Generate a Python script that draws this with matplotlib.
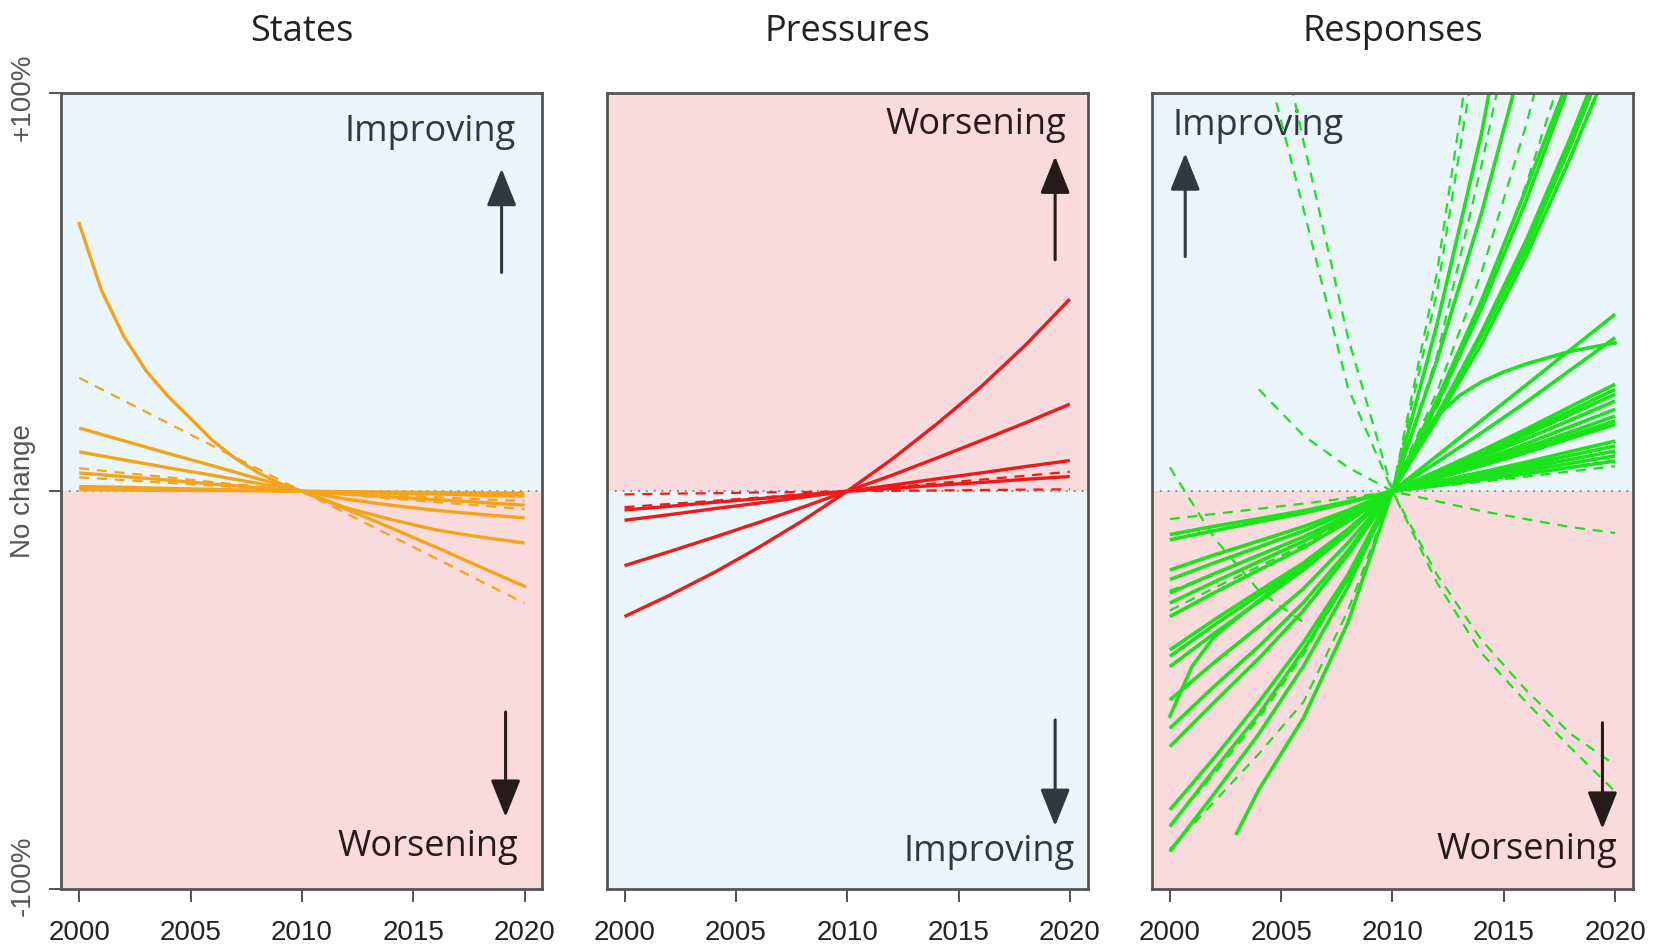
"""Recreate the States / Pressures / Responses trend panel figure."""

import numpy as np
import matplotlib
matplotlib.use('Agg')
import matplotlib.pyplot as plt

# ---------------------------------------------------------------------------
# Data: relative change (fraction, 2010 = 0)
# ---------------------------------------------------------------------------
years = [2000, 2002, 2004, 2006, 2008, 2010, 2012, 2014, 2016, 2018, 2020]
tick_years = [2000, 2005, 2010, 2015, 2020]
panel_titles = ['States', 'Pressures', 'Responses']

# the strongly curved state series is read year by year
states_curve_years = [2000, 2001, 2002, 2003, 2004, 2005, 2006, 2007, 2008,
                      2009, 2010, 2012, 2014, 2016, 2018, 2020]
states_curve = [0.673, 0.505, 0.390, 0.303, 0.238, 0.183, 0.127, 0.083, 0.048,
                0.020, 0, -0.045, -0.092, -0.140, -0.190, -0.239]
states_solid = [
    [0.159, 0.127, 0.095, 0.064, 0.032, 0, -0.042, -0.071, -0.097, -0.115, -0.130],
    [0.099, 0.079, 0.059, 0.040, 0.020, 0, -0.020, -0.035, -0.048, -0.058, -0.067],
    [0.046, 0.037, 0.028, 0.018, 0.009, 0, -0.007, -0.014, -0.021, -0.028, -0.035],
    [0.012, 0.010, 0.007, 0.005, 0.002, 0, -0.002, -0.005, -0.007, -0.010, -0.012],
    [0.004, 0.003, 0.002, 0.002, 0.001, 0, -0.001, -0.002, -0.003, -0.004, -0.005],
]
states_dashed = [
    [0.285, 0.228, 0.171, 0.114, 0.057, 0, -0.056, -0.112, -0.168, -0.225, -0.281],
    [0.058, 0.046, 0.035, 0.023, 0.012, 0, -0.009, -0.018, -0.027, -0.036, -0.045],
    [0.035, 0.028, 0.021, 0.014, 0.007, 0, -0.005, -0.010, -0.015, -0.020, -0.025],
]

pressures_solid = [
    [-0.315, -0.262, -0.205, -0.142, -0.074, 0, 0.080, 0.168, 0.262, 0.367, 0.483],
    [-0.187, -0.152, -0.116, -0.079, -0.040, 0, 0.040, 0.083, 0.127, 0.172, 0.219],
    [-0.073, -0.059, -0.044, -0.030, -0.015, 0, 0.015, 0.031, 0.046, 0.062, 0.077],
    [-0.047, -0.038, -0.028, -0.019, -0.009, 0, 0.007, 0.015, 0.022, 0.030, 0.037],
]
pressures_dashed = [
    [-0.040, -0.032, -0.024, -0.016, -0.008, 0, 0.010, 0.020, 0.029, 0.039, 0.049],
    [-0.008, -0.006, -0.005, -0.003, -0.002, 0, 0.001, 0.002, 0.003, 0.004, 0.005],
]

responses_solid = [
    [-0.906, -0.76, -0.61, -0.44, -0.24, 0, 0.42, 0.90, 1.50, 2.20, 3.00],
    [-0.843, -0.70, -0.56, -0.40, -0.22, 0, 0.23, 0.48, 0.76, 1.05, 1.40],
    [-0.801, -0.67, -0.53, -0.38, -0.21, 0, 0.22, 0.46, 0.73, 1.03, 1.38],
    [-0.642, -0.53, -0.42, -0.30, -0.16, 0, 0.19, 0.40, 0.63, 0.89, 1.17],
    [-0.596, -0.49, -0.39, -0.28, -0.15, 0, 0.19, 0.39, 0.61, 0.87, 1.15],
    [-0.525, -0.43, -0.34, -0.245, -0.13, 0, 0.18, 0.37, 0.59, 0.84, 1.11],
    [-0.441, -0.357, -0.278, -0.198, -0.106, 0, 0.089, 0.178, 0.267, 0.356, 0.445],
    [-0.415, -0.336, -0.261, -0.187, -0.100, 0, 0.073, 0.147, 0.224, 0.305, 0.386],
    [-0.399, -0.323, -0.251, -0.180, -0.096, 0, 0.051, 0.102, 0.156, 0.213, 0.269],
    [-0.315, -0.255, -0.198, -0.142, -0.076, 0, 0.049, 0.097, 0.148, 0.202, 0.256],
    [-0.281, -0.228, -0.177, -0.126, -0.067, 0, 0.046, 0.093, 0.142, 0.193, 0.244],
    [-0.256, -0.207, -0.161, -0.115, -0.061, 0, 0.043, 0.086, 0.132, 0.179, 0.227],
    [-0.222, -0.180, -0.140, -0.100, -0.053, 0, 0.039, 0.078, 0.119, 0.163, 0.206],
    [-0.198, -0.160, -0.125, -0.089, -0.048, 0, 0.036, 0.072, 0.110, 0.149, 0.189],
    [-0.122, -0.099, -0.077, -0.055, -0.029, 0, 0.024, 0.048, 0.073, 0.100, 0.126],
    [-0.109, -0.088, -0.069, -0.049, -0.026, 0, 0.022, 0.043, 0.066, 0.090, 0.114],
    [None, None, None, None, None, 0, 0.034, 0.067, 0.103, 0.140, 0.177],
    [None, None, None, None, None, 0, 0.032, 0.064, 0.097, 0.133, 0.168],
    [None, None, None, None, None, 0, 0.019, 0.038, 0.059, 0.080, 0.101],
    [None, None, None, None, None, 0, 0.017, 0.034, 0.052, 0.070, 0.089],
    [None, None, None, None, None, 0, 0.014, 0.029, 0.044, 0.060, 0.076],
]
responses_dashed = [
    [2.10, 1.60, 1.15, 0.71, 0.26, 0, -0.21, -0.374, -0.50, -0.61, -0.688],
    [2.40, 1.90, 1.40, 0.88, 0.387, 0, -0.23, -0.407, -0.53, -0.645, -0.755],
    [None, None, 0.256, 0.14, 0.06, 0, -0.025, -0.05, -0.07, -0.09, -0.105],
    [0.06, -0.118, -0.25, -0.33, None, None, None, None, None, None, None],
    [-0.90, -0.78, -0.66, -0.53, -0.30, 0, 0.55, 1.30, 2.20, 3.10, 4.00],
    [-0.596, -0.49, -0.39, -0.28, -0.15, 0, 0.50, 1.20, 2.00, 2.80, 3.60],
    [-0.30, -0.243, -0.189, -0.135, -0.072, 0, 0.34, 0.82, 1.35, 1.90, 2.50],
    [-0.84, -0.71, -0.57, -0.41, -0.22, 0, 0.25, 0.55, 0.92, 1.35, 1.80],
    [-0.25, -0.21, -0.16, -0.115, -0.06, 0, 0.21, 0.46, 0.77, 1.12, 1.50],
    [-0.07, -0.057, -0.044, -0.031, -0.017, 0, 0.012, 0.024, 0.037, 0.050, 0.063],
]
# one response series only starts in 2003
responses_late_years = [2003, 2004, 2006, 2008, 2010, 2012, 2014, 2016]
responses_late = [-0.86, -0.75, -0.57, -0.33, 0, 0.33, 0.70, 1.12]
# the bending response series, read more densely
responses_bend_years = [2000, 2001, 2002, 2003, 2004, 2006, 2008, 2010, 2011,
                        2012, 2013, 2014, 2015, 2016, 2018, 2020]
responses_bend = [-0.566, -0.44, -0.365, -0.32, -0.275, -0.186, -0.097, 0, 0.11,
                  0.19, 0.24, 0.275, 0.30, 0.32, 0.352, 0.373]

# ---------------------------------------------------------------------------
# Styling
# ---------------------------------------------------------------------------
BLUE = '#EAF6FB'
PINK = '#F9DBDD'
ORANGE = '#F5A41A'
RED = '#F01818'
GREEN = '#1AE31A'
DARK_BLUE_SIDE = '#2e3940'
DARK_PINK_SIDE = '#261a1d'
TITLE_FONT = ['Open Sans', 'DejaVu Sans']
TICK_FONT = ['Liberation Sans', 'DejaVu Sans']

fig = plt.figure(figsize=(16.6, 9.49), dpi=100)
lefts = [0.0370, 0.3655, 0.6940]
axes = [fig.add_axes([l, 0.0632, 0.2897, 0.8383]) for l in lefts]


def draw_panel(ax, solid, dashed, color, top_good, lw=2.4):
    """Background halves, zero line and the trend lines of one panel."""
    ax.set_xlim(1999.2, 2020.8)
    ax.set_ylim(-1, 1)
    top_col, bot_col = (BLUE, PINK) if top_good else (PINK, BLUE)
    ax.axhspan(0, 1, color=top_col, lw=0, zorder=0)
    ax.axhspan(-1, 0, color=bot_col, lw=0, zorder=0)
    ax.axhline(0, color='#8c8c8c', lw=1.4, ls=(0, (1, 3)), zorder=1)
    for vals in dashed:
        ax.plot(years, np.array(vals, dtype=float), color=color, lw=1.6,
                ls=(0, (4.5, 3.5)), zorder=3)
    for vals in solid:
        ax.plot(years, np.array(vals, dtype=float), color=color, lw=lw,
                solid_capstyle='butt', zorder=4)
    for s in ax.spines.values():
        s.set_linewidth(2.0)
        s.set_color('#555555')
        s.set_zorder(6)
    ax.set_xticks(tick_years)
    ax.set_xticklabels([str(y) for y in tick_years], family=TICK_FONT,
                       color='#222222')
    ax.tick_params(axis='x', length=9, width=1.3, pad=13, labelsize=20,
                   color='#444444')
    ax.set_yticks([])


def arrow(ax, x, y0, y1, col):
    ax.annotate('', xy=(x, y1), xytext=(x, y0),
                arrowprops=dict(arrowstyle='-|>,head_length=1.0,head_width=0.4',
                                lw=2.2, color=col, mutation_scale=23,
                                shrinkA=0, shrinkB=0), zorder=5)


def label(ax, x, y, text, ha, col):
    ax.text(x, y, text, ha=ha, va='center', fontsize=26, color=col,
            family=TITLE_FONT, zorder=2)


draw_panel(axes[0], states_solid, states_dashed, ORANGE, top_good=True)
axes[0].plot(states_curve_years, states_curve, color=ORANGE, lw=2.4, zorder=4)
draw_panel(axes[1], pressures_solid, pressures_dashed, RED, top_good=False)
draw_panel(axes[2], responses_solid, responses_dashed, GREEN, top_good=True,
           lw=2.6)
axes[2].plot(responses_late_years, responses_late, color=GREEN, lw=2.6, zorder=4)
axes[2].plot(responses_bend_years, responses_bend, color=GREEN, lw=2.6, zorder=4)

# titles
for ax, title in zip(axes, panel_titles):
    ax.text(0.5, 1.077, title, transform=ax.transAxes, ha='center', va='center',
            fontsize=26, color='#222222', family=TITLE_FONT)

# y axis labels only on the first panel
ax = axes[0]
ax.set_yticks([-1, 0, 1])
ax.set_yticklabels([])
ax.tick_params(axis='y', length=9, width=1.3, color='#444444')
for yv, txt in [(0.99, '+100%'), (0, 'No change'), (-0.967, '-100%')]:
    ax.text(-0.08, yv, txt, transform=ax.get_yaxis_transform(), rotation=90,
            ha='center', va='center', fontsize=20, color='#555555',
            family=TICK_FONT)

# direction arrows and labels
arrow(axes[0], 2018.97, 0.55, 0.811, DARK_BLUE_SIDE)
arrow(axes[0], 2019.15, -0.555, -0.819, DARK_PINK_SIDE)
label(axes[0], 2019.6, 0.904, 'Improving', 'right', DARK_BLUE_SIDE)
label(axes[0], 2019.7, -0.894, 'Worsening', 'right', DARK_PINK_SIDE)

arrow(axes[1], 2019.34, 0.582, 0.842, DARK_PINK_SIDE)
arrow(axes[1], 2019.34, -0.575, -0.842, DARK_BLUE_SIDE)
label(axes[1], 2019.86, 0.922, 'Worsening', 'right', DARK_PINK_SIDE)
label(axes[1], 2020.2, -0.907, 'Improving', 'right', DARK_BLUE_SIDE)

arrow(axes[2], 2000.69, 0.59, 0.85, DARK_BLUE_SIDE)
arrow(axes[2], 2019.43, -0.582, -0.849, DARK_PINK_SIDE)
label(axes[2], 2000.1, 0.917, 'Improving', 'left', DARK_BLUE_SIDE)
label(axes[2], 2020.08, -0.902, 'Worsening', 'right', DARK_PINK_SIDE)

fig.savefig('out.png', dpi=100)
plt.close(fig)
